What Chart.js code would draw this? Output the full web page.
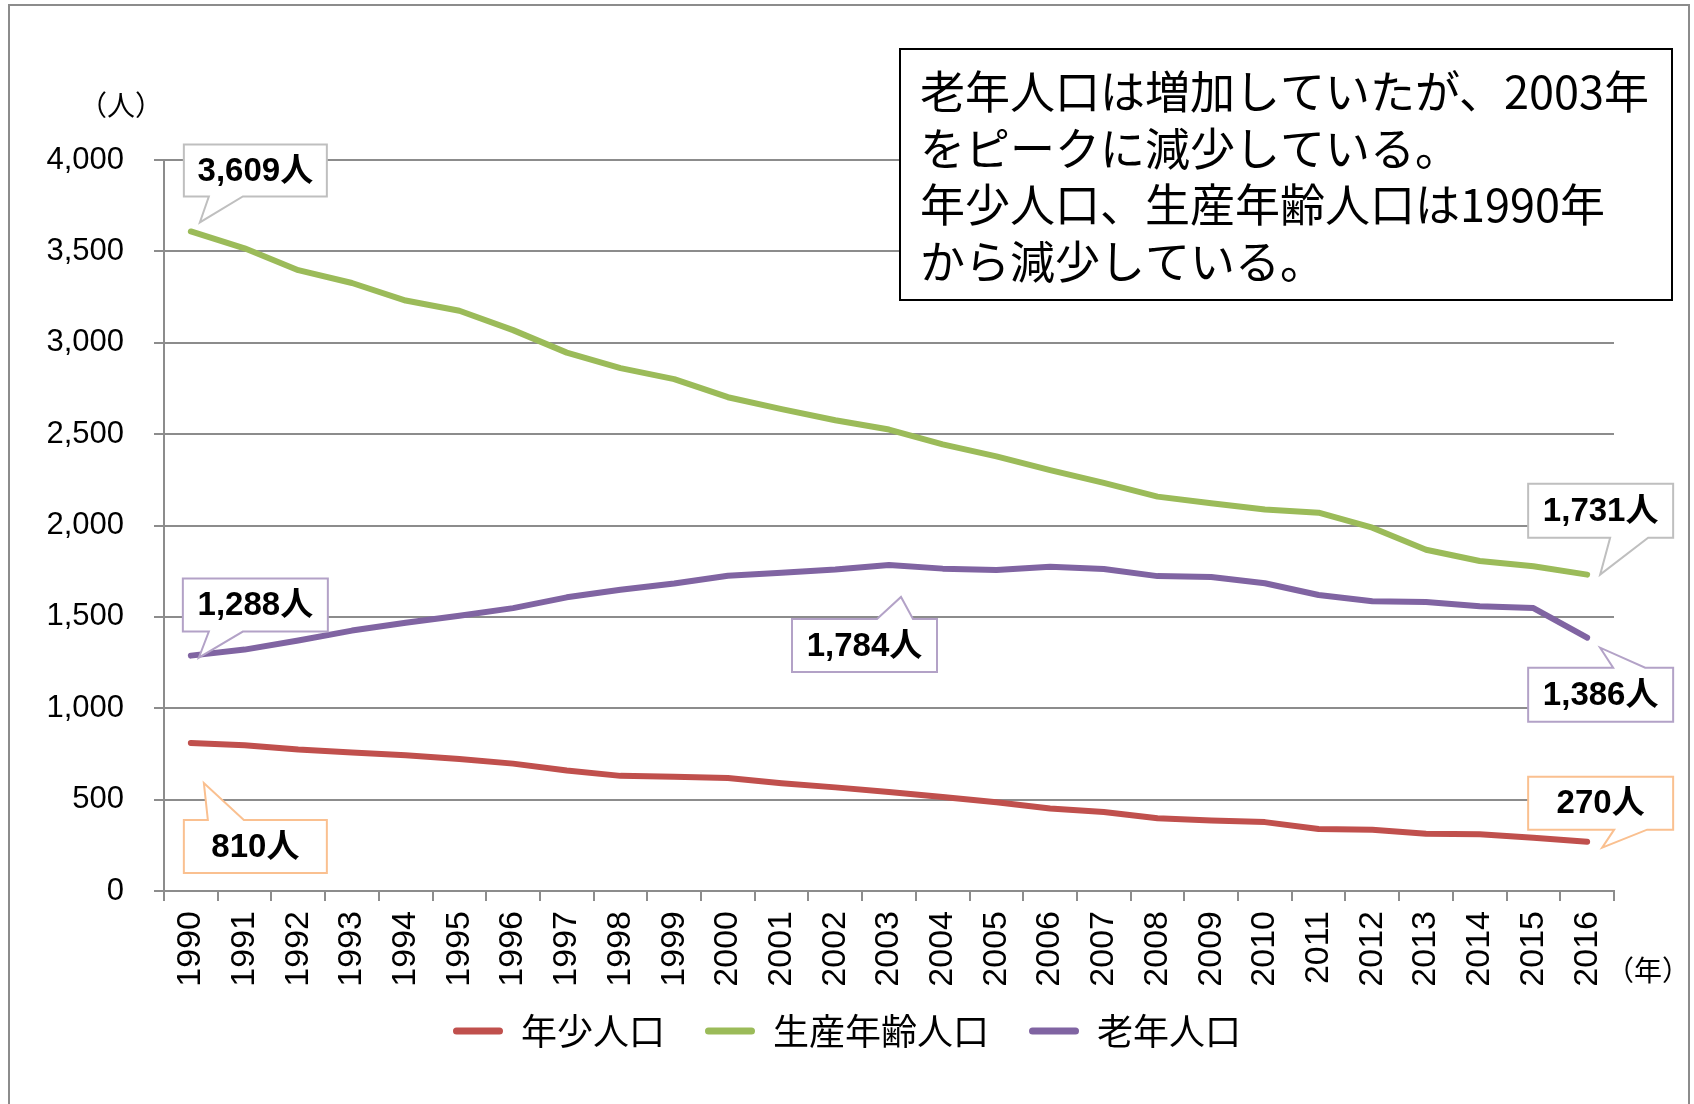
<!DOCTYPE html>
<html lang="ja">
<head>
<meta charset="utf-8">
<script src="https://cdn.jsdelivr.net/npm/chart.js@4.4.1/dist/chart.umd.min.js"></script>
<style>
  html, body { margin: 0; padding: 0; background: #fff; }
  #wrap { position: relative; width: 1694px; height: 1104px; }
</style>
</head>
<body>
<div id="wrap"><canvas id="popChart" width="1694" height="1104"></canvas></div>
<script>
var years = ['1990', '1991', '1992', '1993', '1994', '1995', '1996', '1997', '1998', '1999',
  '2000', '2001', '2002', '2003', '2004', '2005', '2006', '2007', '2008', '2009',
  '2010', '2011', '2012', '2013', '2014', '2015', '2016'];

// 年少人口
var youthPop = [810, 797, 774, 758, 743, 722, 697, 659, 630, 625,
  618, 590, 567, 542, 514, 486, 452, 432, 398, 386,
  377, 339, 335, 313, 310, 292, 270];
// 生産年齢人口
var workingPop = [3609, 3517, 3397, 3327, 3231, 3175, 3069, 2946, 2861, 2801,
  2702, 2637, 2576, 2525, 2444, 2378, 2303, 2233, 2158, 2122,
  2088, 2070, 1988, 1867, 1806, 1777, 1731];
// 老年人口
var elderlyPop = [1288, 1321, 1371, 1425, 1468, 1506, 1548, 1607, 1648, 1683,
  1725, 1741, 1759, 1784, 1764, 1756, 1774, 1762, 1723, 1718,
  1684, 1620, 1586, 1581, 1558, 1548, 1386];

var seriesNames = ['年少人口', '生産年齢人口', '老年人口'];
var yTickValues = [0, 500, 1000, 1500, 2000, 2500, 3000, 3500, 4000];
var yUnit = '（人）';
var xUnit = '（年）';
var noteLines = [
  '老年人口は増加していたが、2003年',
  'をピークに減少している。',
  '年少人口、生産年齢人口は1990年',
  'から減少している。'
];

var cRed = '#c0504d';
var cGreen = '#9bbb59';
var cPurple = '#8064a2';
var cGrid = '#8c8c8c';
var numFont = '"Liberation Sans", "Noto Sans CJK JP", sans-serif';
var jpFont = '"Noto Sans CJK JP", sans-serif';

// callouts: which point they refer to, and the box/tail placement relative to that point
var callouts = [
  { ds: 1, i: 0,  border: '#bfbfbf', box: [-7, -87, 143, 52],  side: 'bottom', base: [18, 52], tip: [9, -9] },
  { ds: 2, i: 0,  border: '#b3a2c7', box: [-8, -77, 145, 53],  side: 'bottom', base: [18, 52], tip: [8, 2] },
  { ds: 0, i: 0,  border: '#fac090', box: [-7, 77, 143, 53],   side: 'top',    base: [17, 53], tip: [13, 40] },
  { ds: 2, i: 13, border: '#b3a2c7', box: [-97, 54, 145, 53],  side: 'top',    base: [-12, 24], tip: [12, 32] },
  { ds: 1, i: 26, border: '#bfbfbf', box: [-59, -91, 145, 54], side: 'bottom', base: [23, 61], tip: [13, 0] },
  { ds: 2, i: 26, border: '#b3a2c7', box: [-59, 30, 145, 54],  side: 'top',    base: [26, 58], tip: [13, 10] },
  { ds: 0, i: 26, border: '#fac090', box: [-59, -65, 145, 53], side: 'bottom', base: [27, 60], tip: [15, 6] }
];

function drawCallout(ctx, px, py, c, text) {
  var x = px + c.box[0], y = py + c.box[1], w = c.box[2], h = c.box[3];
  var a = px + c.base[0], b = px + c.base[1];
  var tx = px + c.tip[0], ty = py + c.tip[1];
  ctx.beginPath();
  ctx.moveTo(x, y);
  if (c.side === 'top') {
    ctx.lineTo(a, y); ctx.lineTo(tx, ty); ctx.lineTo(b, y);
  }
  ctx.lineTo(x + w, y);
  ctx.lineTo(x + w, y + h);
  if (c.side === 'bottom') {
    ctx.lineTo(b, y + h); ctx.lineTo(tx, ty); ctx.lineTo(a, y + h);
  }
  ctx.lineTo(x, y + h);
  ctx.closePath();
  ctx.fillStyle = '#fff';
  ctx.fill();
  ctx.lineWidth = 2;
  ctx.strokeStyle = c.border;
  ctx.stroke();
  ctx.fillStyle = '#000';
  ctx.font = 'bold 33px ' + numFont;
  ctx.textAlign = 'center';
  ctx.textBaseline = 'middle';
  ctx.fillText(text, x + w / 2, y + h / 2 + 1);
}

var overlay = {
  id: 'overlay',
  afterLayout: function (chart) {
    // legend sits a bit right of centre and tucks up under the year labels
    chart.legend.left = 80;
    chart.legend.top = 973;
  },
  afterDatasetsDraw: function (chart) {
    var ctx = chart.ctx;
    ctx.save();
    callouts.forEach(function (c) {
      var pt = chart.getDatasetMeta(c.ds).data[c.i];
      var v = chart.data.datasets[c.ds].data[c.i];
      drawCallout(ctx, pt.x, pt.y, c, v.toLocaleString('en-US') + '人');
    });

    // note box
    ctx.fillStyle = '#fff';
    ctx.fillRect(900, 49, 772, 251);
    ctx.lineWidth = 2;
    ctx.strokeStyle = '#000';
    ctx.strokeRect(900, 49, 772, 251);
    ctx.fillStyle = '#000';
    ctx.font = '45px ' + jpFont;
    ctx.textAlign = 'left';
    ctx.textBaseline = 'middle';
    noteLines.forEach(function (t, k) {
      ctx.fillText(t, 920, 92 + k * 56.7);
    });

    // unit labels
    ctx.font = '28px ' + jpFont;
    ctx.textAlign = 'center';
    ctx.fillText(yUnit, 121, 105);
    ctx.fillText(xUnit, 1648, 970);

    // outer frame
    ctx.strokeStyle = '#8c8c8c';
    ctx.lineWidth = 2;
    ctx.beginPath();
    ctx.moveTo(9, 1110);
    ctx.lineTo(9, 5);
    ctx.lineTo(1689, 5);
    ctx.lineTo(1689, 1110);
    ctx.stroke();
    ctx.restore();
  }
};

function lineSet(label, data, color) {
  return {
    label: label,
    data: data,
    borderColor: color,
    backgroundColor: color,
    borderWidth: 6,
    borderCapStyle: 'round',
    borderJoinStyle: 'round',
    pointRadius: 0,
    tension: 0,
    fill: false
  };
}

new Chart(document.getElementById('popChart'), {
  type: 'line',
  data: {
    labels: years,
    datasets: [
      lineSet(seriesNames[0], youthPop, cRed),
      lineSet(seriesNames[1], workingPop, cGreen),
      lineSet(seriesNames[2], elderlyPop, cPurple)
    ]
  },
  plugins: [overlay],
  options: {
    responsive: false,
    animation: false,
    devicePixelRatio: 1,
    events: [],
    layout: { padding: { top: 160, right: 80, bottom: 27, left: 0 } },
    scales: {
      x: {
        offset: true,
        afterFit: function (s) { s.height = 100; },
        grid: { offset: true, drawOnChartArea: false, tickLength: 10, color: cGrid, lineWidth: 2 },
        border: { color: cGrid, width: 2 },
        ticks: {
          autoSkip: false, maxRotation: 90, minRotation: 90, padding: 10,
          color: '#000', font: { family: numFont, size: 34 }
        }
      },
      y: {
        min: 0,
        max: 4000,
        afterFit: function (s) { s.width = 164; },
        afterBuildTicks: function (s) {
          s.ticks = yTickValues.map(function (v) { return { value: v }; });
        },
        grid: { tickLength: 10, color: cGrid, lineWidth: 2 },
        border: { color: cGrid, width: 2 },
        ticks: {
          padding: 30, color: '#000', font: { family: numFont, size: 31 },
          callback: function (v) { return v.toLocaleString('en-US'); }
        }
      }
    },
    plugins: {
      tooltip: { enabled: false },
      legend: {
        position: 'bottom',
        labels: {
          boxWidth: 50,
          boxHeight: 7,
          padding: 40,
          useBorderRadius: true,
          borderRadius: 3.5,
          color: '#000',
          font: { family: jpFont, size: 36 },
          generateLabels: function (chart) {
            var items = Chart.defaults.plugins.legend.labels.generateLabels(chart);
            items.forEach(function (it) { it.fillStyle = it.strokeStyle; it.lineWidth = 0; });
            return items;
          }
        }
      }
    }
  }
});
</script>
</body>
</html>
